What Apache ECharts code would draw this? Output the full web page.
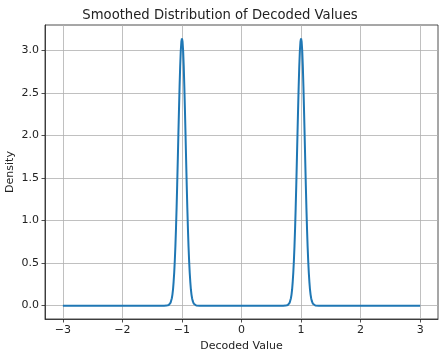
<!DOCTYPE html>
<html>
<head>
<meta charset="utf-8">
<script src="https://cdn.jsdelivr.net/npm/echarts@6/dist/echarts.min.js"></script>
<style>html,body{margin:0;padding:0;background:#fff}#c{width:440px;height:352px}</style>
</head>
<body>
<div id="c"></div>
<script>
// Data
const xValues = [-3.0, -2.0, -1.5, -1.3, -1.26, -1.24, -1.22, -1.20, -1.19, -1.18, -1.17, -1.16, -1.15, -1.14, -1.13, -1.12, -1.11, -1.10, -1.09, -1.08, -1.07, -1.06, -1.05, -1.04, -1.03, -1.02, -1.01, -1.00, -0.99, -0.98, -0.97, -0.96, -0.95, -0.94, -0.93, -0.92, -0.91, -0.90, -0.89, -0.88, -0.87, -0.86, -0.85, -0.84, -0.83, -0.82, -0.81, -0.80, -0.78, -0.76, -0.74, -0.7, -0.5, 0.0, 0.5, 0.7, 0.74, 0.76, 0.78, 0.80, 0.81, 0.82, 0.83, 0.84, 0.85, 0.86, 0.87, 0.88, 0.89, 0.90, 0.91, 0.92, 0.93, 0.94, 0.95, 0.96, 0.97, 0.98, 0.99, 1.00, 1.01, 1.02, 1.03, 1.04, 1.05, 1.06, 1.07, 1.08, 1.09, 1.10, 1.11, 1.12, 1.13, 1.14, 1.15, 1.16, 1.17, 1.18, 1.19, 1.20, 1.22, 1.24, 1.26, 1.3, 1.5, 2.0, 3.0];
const densityValues = [0, 0, 0, 0, 0.0005, 0.002, 0.008, 0.022, 0.036, 0.056, 0.087, 0.13, 0.19, 0.28, 0.39, 0.53, 0.70, 0.91, 1.15, 1.42, 1.71, 2.01, 2.30, 2.57, 2.81, 2.99, 3.10, 3.14, 3.10, 2.99, 2.81, 2.57, 2.30, 2.01, 1.71, 1.42, 1.15, 0.91, 0.70, 0.53, 0.39, 0.28, 0.19, 0.13, 0.087, 0.056, 0.036, 0.022, 0.008, 0.002, 0.0005, 0, 0, 0, 0, 0, 0.0005, 0.002, 0.008, 0.022, 0.036, 0.056, 0.087, 0.13, 0.19, 0.28, 0.39, 0.53, 0.70, 0.91, 1.15, 1.42, 1.71, 2.01, 2.30, 2.57, 2.81, 2.99, 3.10, 3.14, 3.10, 2.99, 2.81, 2.57, 2.30, 2.01, 1.71, 1.42, 1.15, 0.91, 0.70, 0.53, 0.39, 0.28, 0.19, 0.13, 0.087, 0.056, 0.036, 0.022, 0.008, 0.002, 0.0005, 0, 0, 0, 0];
const xTicks = [-3, -2, -1, 0, 1, 2, 3];
const yTicks = [0, 0.5, 1.0, 1.5, 2.0, 2.5, 3.0];
const titleText = 'Smoothed Distribution of Decoded Values';
const xLabel = 'Decoded Value';
const yLabel = 'Density';

const FONT = 'DejaVu Sans';
const TXT = '#222';
const minus = s => String(s).replace('-', '\u2212');
const chart = echarts.init(document.getElementById('c'), null, {renderer: 'canvas'});
chart.setOption({
  animation: false,
  backgroundColor: '#fff',
  title: {
    text: titleText, left: 'center', top: 4,
    textStyle: {fontFamily: FONT, fontSize: 13.2, fontWeight: 'normal', color: TXT}
  },
  grid: {left: 45, right: 2, top: 25, bottom: 33, outerBoundsMode: 'none', containLabel: false, show: true, borderColor: '#222', borderWidth: 0.8, backgroundColor: 'transparent'},
  xAxis: {
    type: 'value', min: -3.3, max: 3.3,
    name: xLabel, nameLocation: 'middle', nameGap: 22, nameMoveOverlap: false,
    nameTextStyle: {fontFamily: FONT, fontSize: 11, color: TXT},
    axisLine: {show: true, onZero: false, lineStyle: {color: '#222', width: 0.8}},
    axisTick: {show: true, length: 3.5, customValues: xTicks, lineStyle: {color: '#222', width: 0.8}},
    axisLabel: {customValues: xTicks, margin: 6, fontFamily: FONT, fontSize: 11, color: TXT, formatter: v => minus(v)},
    splitLine: {show: true, lineStyle: {color: '#b0b0b0', width: 0.8}}
  },
  yAxis: {
    type: 'value', min: -0.157, max: 3.297,
    name: yLabel, nameLocation: 'middle', nameGap: 29, nameRotate: 90, nameMoveOverlap: false,
    nameTextStyle: {fontFamily: FONT, fontSize: 11, color: TXT},
    axisLine: {show: true, onZero: false, lineStyle: {color: '#222', width: 0.8}},
    axisTick: {show: true, length: 3.5, customValues: yTicks, lineStyle: {color: '#222', width: 0.8}},
    axisLabel: {customValues: yTicks, margin: 6, fontFamily: FONT, fontSize: 11, color: TXT, formatter: v => minus(Number(v).toFixed(1))},
    splitLine: {show: true, lineStyle: {color: '#b0b0b0', width: 0.8}}
  },
  series: [{
    type: 'line',
    data: xValues.map((x, i) => [x, densityValues[i]]),
    showSymbol: false, smooth: false,
    lineStyle: {color: '#1f77b4', width: 2},
    itemStyle: {color: '#1f77b4'}
  }]
});
</script>
</body>
</html>
